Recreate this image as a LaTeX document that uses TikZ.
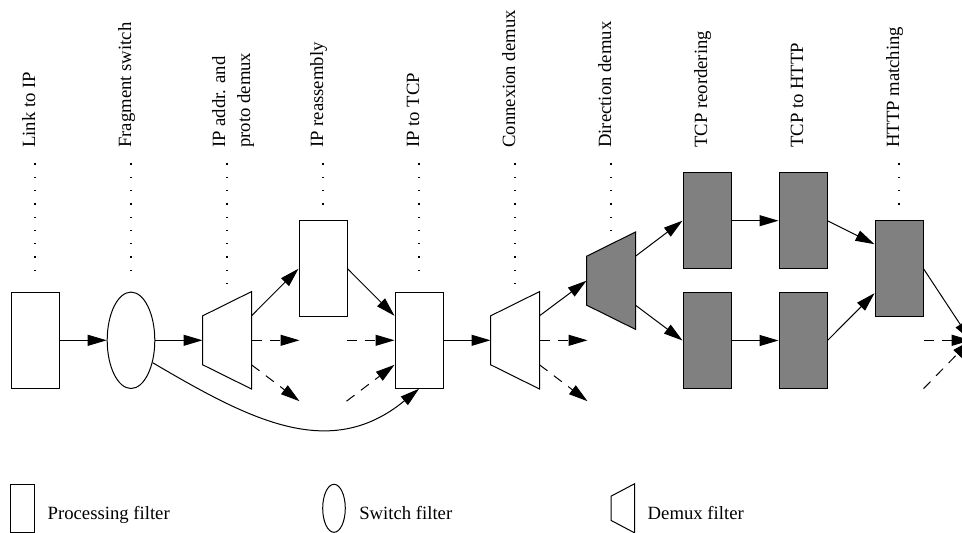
\documentclass[tikz,border=0pt]{standalone}
\usepackage{fontspec}
\setmainfont{Liberation Serif}
\usepackage{tikz}
\usetikzlibrary{shapes,arrows,arrows.meta}

\begin{document}
\begin{tikzpicture}[x=1pt, y=-1pt, node distance=96pt, line width=1pt, >={Triangle[length=19pt,width=11pt]}]
		% Define the styles for the filters
		\tikzstyle{proc}=[rectangle, draw=black, minimum width=48pt, minimum height=96pt, inner sep=0pt]
		\tikzstyle{switch}=[ellipse, draw=black, minimum width=47.6pt, minimum height=96.4pt, inner sep=0pt]
		\tikzstyle{demux}=[rectangle, minimum width=48pt, minimum height=96.4pt, inner sep=0pt]
		\tikzstyle{busy}=[fill=gray]
		\tikzstyle{lbl}=[rotate=90, anchor=base west, inner sep=0pt, font=\fontsize{18.7}{25}\selectfont]
		\tikzstyle{key}=[anchor=base west, inner sep=0pt, font=\fontsize{18.7}{25}\selectfont]
		\tikzstyle{guide}=[line width=1.3pt, dash pattern=on 1.3pt off 12pt, shorten <=15pt, shorten >=12pt]
		\tikzstyle{opt}=[->, dash pattern=on 10pt off 8pt]

		\useasboundingbox (0,0) rectangle (962,533);
		\coordinate (top) at (0,148.3);

		% Define nodes
		\node (link) [proc] at (35,340.3) {};
		\node (frag) [switch, right of=link] {};
		\node (addr) [demux, right of=frag] {};
		\node (reasm) [proc, right of=addr, yshift=71.6pt] {};
		\node (tcp) [proc, right of=reasm, yshift=-71.6pt] {};
		\node (conn) [demux, right of=tcp] {};
		\node (dir) [demux, right of=conn, yshift=59.6pt] {};
		\node (reordA) [proc, busy, right of=dir, yshift=60pt] {};
		\node (reordB) [proc, busy, right of=dir, yshift=-59.8pt] {};
		\node (httpA) [proc, busy, right of=reordA] {};
		\node (httpB) [proc, busy, right of=reordB] {};
		\node (match) [proc, busy, right of=httpA, yshift=-48pt] {};
		\coordinate (next) at (970.7,340.3);

		% Demux outlines: short side on the left
		\draw (addr.north east) -- (addr.south east) -- ([yshift=24.3pt]addr.south west) -- ([yshift=-24.3pt]addr.north west) -- cycle;
		\draw (conn.north east) -- (conn.south east) -- ([yshift=24.3pt]conn.south west) -- ([yshift=-24.3pt]conn.north west) -- cycle;
		\draw[busy] (dir.north east) -- (dir.south east) -- ([yshift=24.3pt]dir.south west) -- ([yshift=-24.3pt]dir.north west) -- cycle;

		% Free ends of the other outputs
		\coordinate (addrB) at ([xshift=48pt]addr.east);
		\coordinate (addrC) at ([xshift=48pt, yshift=-36.4pt]addr.-45);
		\coordinate (tcpB) at ([xshift=-48pt]tcp.west);
		\coordinate (tcpC) at ([xshift=-48pt, yshift=-36.4pt]tcp.-135);
		\coordinate (connB) at ([xshift=48pt]conn.east);
		\coordinate (connC) at ([xshift=48pt, yshift=-36.4pt]conn.-45);
		\coordinate (matchB) at ([yshift=-71.6pt]match.east);
		\coordinate (matchC) at ([yshift=-120pt]match.east);

		% Labels
		\node (lblLink) [lbl] at (link |- top) {Link to IP};
		\node (lblFrag) [lbl] at (frag |- top) {Fragment switch};
		\node (lblAddr) [lbl, anchor=north west, align=left] at (211.7,148.3) {IP addr. and\\proto demux};
		\node (lblReasm) [lbl] at (reasm |- top) {IP reassembly};
		\node (lblTcp) [lbl] at (tcp |- top) {IP to TCP};
		\node (lblConn) [lbl] at (conn |- top) {Connexion demux};
		\node (lblDir) [lbl] at (dir |- top) {Direction demux};
		\node (lblReord) [lbl] at (reordA |- top) {TCP reordering};
		\node (lblHttp) [lbl] at (httpA |- top) {TCP to HTTP};
		\node (lblMatch) [lbl] at (match |- top) {HTTP matching};

		\draw[guide] (link |- top) -- (link.north);
		\draw[guide] (frag |- top) -- (frag.north);
		\draw[guide, shorten >=1pt] (addr |- top) -- (addr.north);
		\draw[guide] (reasm |- top) -- (reasm.north);
		\draw[guide] (tcp |- top) -- (tcp.north);
		\draw[guide, shorten >=1pt] (conn |- top) -- (conn.north);
		\draw[guide, shorten >=1pt] (dir |- top) -- (dir.north);
		\draw[guide] (match |- top) -- (match.north);

		% Define edges
		\draw[->] (link) -- (frag);
		\draw[->] (frag) -- (addr);
		\draw[->] (addr.45) -- (reasm.west);
		\draw[opt] (addr.east) -- (addrB);
		\draw[opt] (addr.-45) -- (addrC);
		\draw[->] (reasm.east) -- (tcp.135);
		\draw[opt] (tcpB) -- (tcp.west);
		\draw[opt] (tcpC) -- (tcp.-135);
		\draw[->] (frag.-46) .. controls (250,420) and (330,462) .. (tcp.south);

		\draw[->] (tcp) -- (conn);
		\draw[->] (conn.45) -- (dir.west);
		\draw[opt] (conn.east) -- (connB);
		\draw[opt] (conn.-45) -- (connC);

		\draw[->] (dir.45) -- (reordA.west);
		\draw[->] (dir.-45) -- (reordB.west);
		\draw[->] (reordA) -- (httpA);
		\draw[->] (reordB) -- (httpB);
		\draw[->] (httpA.east) -- (match.135);
		\draw[->] (httpB.east) -- (match.-135);

		\draw[->] (match.east) -- (next);
		\draw[opt] (matchB) -- (next);
		\draw[opt] (matchC) -- (next);

		% Legend
		\node (keyProc) [proc, minimum width=24pt, minimum height=48pt] at (22.7,508.3) {};
		\node (keySwitch) [switch, minimum width=22.6pt, minimum height=48pt] at (334,508.3) {};
		\node (keyDemux) [demux, minimum width=22.4pt, minimum height=48pt] at (622.8,508.3) {};
		\draw (keyDemux.north east) -- (keyDemux.south east) -- ([yshift=12.35pt]keyDemux.south west) -- ([yshift=-12.35pt]keyDemux.north west) -- cycle;
		\node (txtProc) [key] at ([xshift=12pt, yshift=-11.2pt]keyProc.east) {Processing filter};
		\node (txtSwitch) [key] at ([xshift=13pt, yshift=-11.2pt]keySwitch.east) {Switch filter};
		\node (txtDemux) [key] at ([xshift=12.7pt, yshift=-11.2pt]keyDemux.east) {Demux filter};
	\end{tikzpicture}
\end{document}
